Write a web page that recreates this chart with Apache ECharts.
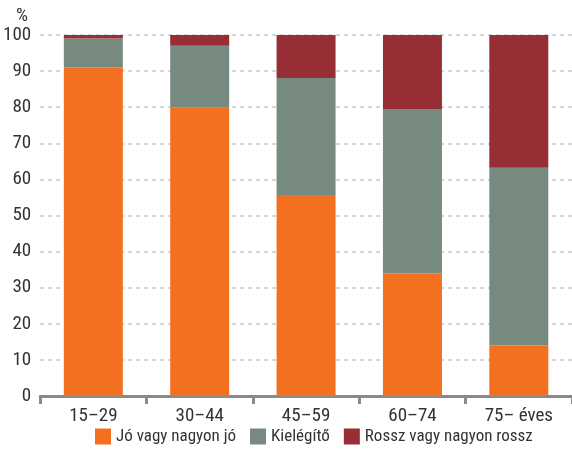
<!DOCTYPE html>
<html>
<head>
<meta charset="utf-8">
<script src="https://cdn.jsdelivr.net/npm/echarts@6/dist/echarts.min.js"></script>
<style>
  html, body { margin: 0; padding: 0; background: #fff; }
  #chart { width: 572px; height: 456px; }
</style>
</head>
<body>
<div id="chart"></div>
<script>
// Age groups and share (%) of self-rated health per group
const categories = ['15–29', '30–44', '45–59', '60–74', '75– éves'];
const good = [91, 80, 55.7, 34, 14];        // Jó vagy nagyon jó
const fair = [8, 17, 32.4, 45.5, 49.2];     // Kielégítő
const poor = [1, 3, 11.9, 20.5, 36.8];      // Rossz vagy nagyon rossz
const yTicks = [0, 10, 20, 30, 40, 50, 60, 70, 80, 90, 100];

const FONT = '"Liberation Sans Narrow", "Roboto Condensed", "DejaVu Sans Condensed", sans-serif';
const colors = ['#F37021', '#778A80', '#972D35'];

const chart = echarts.init(document.getElementById('chart'));
chart.setOption({
  animation: false,
  color: colors,
  grid: { left: 40, right: 0, top: 35, bottom: 60, containLabel: false },
  legend: {
    bottom: 6,
    left: 90,
    itemWidth: 16,
    itemHeight: 16,
    itemGap: 14,
    icon: 'rect',
    textStyle: { fontFamily: FONT, fontSize: 17, color: '#333' },
    data: ['Jó vagy nagyon jó', 'Kielégítő', 'Rossz vagy nagyon rossz']
  },
  xAxis: {
    type: 'category',
    data: categories,
    axisLine: { lineStyle: { color: '#8a8a8a', width: 3 } },
    axisTick: { show: true, length: 8, lineStyle: { color: '#8a8a8a', width: 3 } },
    axisLabel: { fontFamily: FONT, fontSize: 19, color: '#333', margin: 11 }
  },
  yAxis: {
    type: 'value',
    min: yTicks[0],
    max: yTicks[yTicks.length - 1],
    interval: 10,
    name: '%',
    nameGap: 9,
    nameTextStyle: { fontFamily: FONT, fontSize: 19, color: '#333', align: 'right', padding: [0, 12, 0, 0] },
    axisLine: { show: false },
    axisTick: { show: false },
    axisLabel: { fontFamily: FONT, fontSize: 19, color: '#333', margin: 9 },
    splitLine: { lineStyle: { color: '#c8c8c8', type: [4, 4], width: 1.5 } }
  },
  series: [
    { name: 'Jó vagy nagyon jó', type: 'bar', stack: 'total', data: good, barWidth: 59 },
    { name: 'Kielégítő', type: 'bar', stack: 'total', data: fair, barWidth: 59 },
    { name: 'Rossz vagy nagyon rossz', type: 'bar', stack: 'total', data: poor, barWidth: 59 }
  ]
});
</script>
</body>
</html>
